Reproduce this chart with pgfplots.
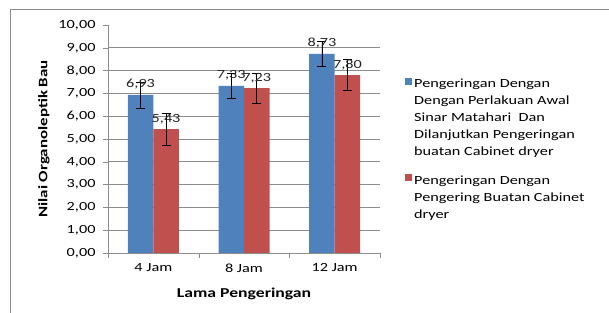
\documentclass[border=0pt]{standalone}
\usepackage{pgfplots}
\pgfplotsset{compat=1.18}
\usepackage{fontspec}
\setmainfont{Carlito}[FakeStretch=1.3]
\definecolor{blueS}{HTML}{4F81BD}
\definecolor{redS}{HTML}{C0504D}
\definecolor{gridc}{HTML}{8C8C8C}
\begin{document}
\begin{tikzpicture}
\useasboundingbox (0bp,0bp) rectangle (609bp,313bp);
\draw[gridc, line width=0.8bp] (10bp,0bp) -- (10bp,304bp) -- (609bp,304bp);
\begin{axis}[
  at={(108bp,60bp)}, anchor=south west,
  scale only axis, width=272bp, height=228bp,
  xmin=-0.5, xmax=2.5, ymin=0, ymax=10,
  ybar=0pt, bar width=25.5bp,
  axis lines*=left, axis line style={draw=gridc, -},
  /pgf/number format/assume math mode=true,
  xtick={0,1,2}, xticklabels={4 Jam,8 Jam,12 Jam},
  xtick style={draw=none},
  extra x ticks={-0.5,0.5,1.5,2.5}, extra x tick labels={},
  extra x tick style={xtick style={draw=gridc}, major tick length=5bp, tick align=outside},
  ytick={0,...,9},
  extra y ticks={10}, extra y tick style={grid=none},
  ymajorgrids, grid style={gridc, line width=0.6bp},
  tick align=outside, major tick length=5bp,
  ytick style={draw=gridc},
  tick label style={font=\fontsize{12.5bp}{15bp}\selectfont},
  x tick label style={yshift=-2bp},
  y tick label style={xshift=-4bp},
  yticklabel={\pgfmathprintnumber[fixed, fixed zerofill, precision=2, use comma]{\tick}},
  xlabel={\textbf{Lama Pengeringan}},
  xlabel style={font=\fontsize{13.6bp}{15bp}\selectfont, yshift=1bp},
  ylabel={\textbf{Nilai Organoleptik Bau}},
  ylabel style={font=\fontsize{13bp}{15bp}\selectfont, yshift=-3bp},
  nodes near coords={\pgfmathprintnumber[fixed, fixed zerofill, precision=2, use comma, assume math mode=true]{\pgfplotspointmeta}},
  nodes near coords style={font=\fontsize{12.5bp}{15bp}\selectfont, anchor=south, yshift=2bp, text=black!85},
  error bars/error bar style={black, line width=0.8bp},
  error bars/error mark options={rotate=90, mark size=4.5bp, black, line width=0.8bp},
  legend cell align=left,
  legend style={at={(1,1)}, anchor=north west, xshift=22bp, yshift=-50bp,
    draw=none, fill=none, font=\fontsize{12.5bp}{17bp}\selectfont,
    nodes={align=left, anchor=north west}, row sep=14bp},
  legend image code/.code={\fill[#1] (0bp,-8bp) rectangle (7bp,-1bp);},
]
\addplot[fill=blueS, draw=none, error bars/.cd, y dir=both, y explicit]
  coordinates {(0,6.93) +- (0,0.57) (1,7.33) +- (0,0.55) (2,8.73) +- (0,0.55)};
\addplot[fill=redS, draw=none, error bars/.cd, y dir=both, y explicit]
  coordinates {(0,5.43) +- (0,0.70) (1,7.23) +- (0,0.65) (2,7.80) +- (0,0.67)};
\legend{{Pengeringan Dengan\\Dengan Perlakuan Awal\\Sinar Matahari\ \ Dan\\Dilanjutkan Pengeringan\\buatan Cabinet dryer},
        {Pengeringan Dengan\\Pengering Buatan Cabinet\\dryer}}
\end{axis}
\end{tikzpicture}
\end{document}
